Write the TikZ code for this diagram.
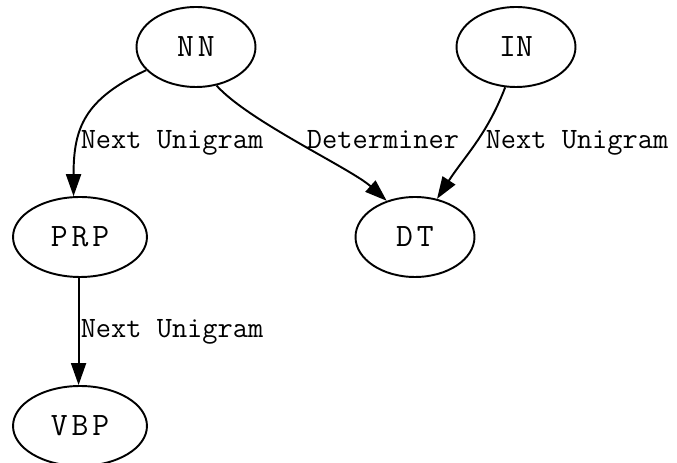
\documentclass[tikz,border=0pt]{standalone}
\usepackage{fontspec}
\newfontfamily\tagfont[LetterSpace=12]{Latin Modern Mono}
\usetikzlibrary{arrows.meta,shapes.geometric}

\begin{document}
\begin{tikzpicture}[
    % Environment Config
    x=0.02cm, y=0.02cm,
    line width=1.1pt,
    Tag/.style={% Style for the tag ellipses
      draw,
      ellipse,
      inner sep=0pt,
      minimum width=2.38cm,
      minimum height=1.6cm,
      font=\fontsize{18.6pt}{20pt}\tagfont
    },
    WideTag/.style={% Wider ellipse
      Tag,
      minimum width=2.68cm
    },
    Edge/.style={% Style for the relations
      -{Triangle[length=0.44cm,width=0.3cm]},
      line width=1.1pt
    },
    EdgeLabel/.style={% Style for the relation names
      anchor=base,
      inner sep=0pt,
      font=\fontsize{16.8pt}{18pt}\ttfamily
    }
  ]

  \useasboundingbox (0,0) rectangle (677,463);

  % Put the tags
  \draw(196,416) node[Tag](NN){NN};
  \draw(516,416) node[Tag,font=\fontsize{18.6pt}{20pt}\ttfamily](IN){IN};
  \draw(80,226) node[WideTag](PRP){PRP};
  \draw(415,226) node[Tag](DT){DT};
  \draw(80,37) node[WideTag](VBP){VBP};

  % Draw the relations
  \draw[Edge]
  (NN.205)
      to[out=205,in=90,looseness=1.2] (PRP.99);
  \draw[Edge]
  (NN.-62)
      to[out=-48,in=138,looseness=0.6] (DT.128);
  \draw[Edge]
  (IN.-105)
      to[out=-111,in=57] (DT.60);
  \draw[Edge]
  (PRP.-92)
      -- (PRP.-92 |- VBP.north);

  % Relation names
  \draw(172,314) node[EdgeLabel](L1){Next Unigram};
  \draw(383,314) node[EdgeLabel](L2){Determiner};
  \draw(577,314) node[EdgeLabel](L3){Next Unigram};
  \draw(172,125) node[EdgeLabel](L4){Next Unigram};

\end{tikzpicture}
\end{document}
